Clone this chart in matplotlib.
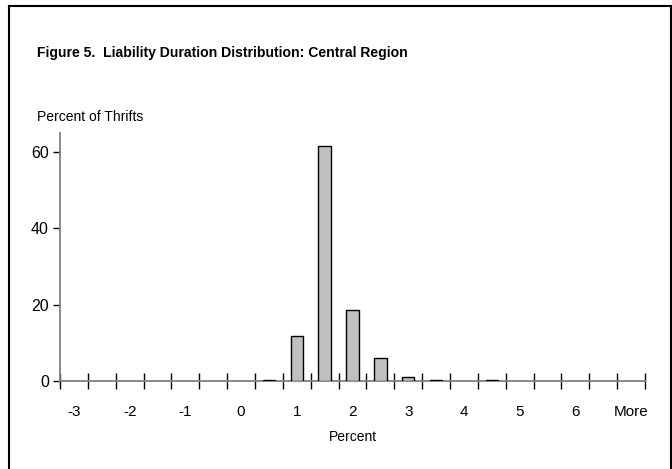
import matplotlib
matplotlib.use('Agg')
import matplotlib.pyplot as plt
from matplotlib.lines import Line2D

plt.rcParams['font.family'] = ['Liberation Sans Narrow', 'Liberation Sans', 'DejaVu Sans']

# histogram bins (Excel style) and percent of thrifts in each
bins = ['-3', '-2.5', '-2', '-1.5', '-1', '-0.5', '0', '0.5', '1', '1.5', '2',
        '2.5', '3', '3.5', '4', '4.5', '5', '5.5', '6', '6.5', 'More']
percent = [0, 0, 0, 0, 0, 0, 0, 0.3, 11.8, 61.6, 18.7,
           5.9, 1.0, 0.3, 0, 0.3, 0, 0, 0, 0, 0]
y_ticks = [0, 20, 40, 60]

fig = plt.figure(figsize=(6.72, 4.69), dpi=100)
ax = fig.add_axes([60/672, 1 - 381/469, 585/672, (381 - 132.7)/469])

# only draw non-empty bins
xs = [i for i, v in enumerate(percent) if v > 0]
hs = [v for v in percent if v > 0]
ax.bar(xs, hs, width=0.45, color='#c0c0c0', edgecolor='black', linewidth=1, zorder=3)

ax.set_xlim(-0.5, len(bins) - 0.5)
ax.set_ylim(0, 65)

axis_grey = '#808080'
for s in ['top', 'right']:
    ax.spines[s].set_visible(False)
for s in ['left', 'bottom']:
    ax.spines[s].set_color(axis_grey)
    ax.spines[s].set_linewidth(1.3)

# x: tick marks on bin boundaries, labels on every other bin
ax.set_xticks([i - 0.5 for i in range(len(bins) + 1)])
ax.set_xticklabels([])
ax.tick_params(axis='x', which='major', direction='inout', length=11, width=1, color='black')
ax.set_xticks(list(range(0, len(bins), 2)), minor=True)
ax.set_xticklabels(bins[::2], minor=True)
ax.tick_params(axis='x', which='minor', length=0, pad=17, labelsize=11)

ax.set_yticks(y_ticks)
ax.tick_params(axis='y', direction='out', length=5, width=1, color='black', labelsize=11.5, pad=3)

ax.set_xlabel('Percent', fontsize=10, labelpad=8)

fig.text(37/672, 1 - 117/469, 'Percent of Thrifts', fontsize=10, va='center', ha='left')
fig.text(37/672, 1 - 53/469, 'Figure 5.  Liability Duration Distribution: Central Region',
         fontsize=10.1, fontweight='bold', va='center', ha='left')

# outer frame (bottom edge runs off the image)
fl, fr, ft = 9/672, 671/672, 1 - 6.5/469
for xd, yd in [([fl, fl], [0, ft]), ([fl, fr], [ft, ft]), ([fr, fr], [ft, 0])]:
    fig.add_artist(Line2D(xd, yd, color='black', linewidth=1.5, transform=fig.transFigure))

fig.savefig('out.png', dpi=100)
